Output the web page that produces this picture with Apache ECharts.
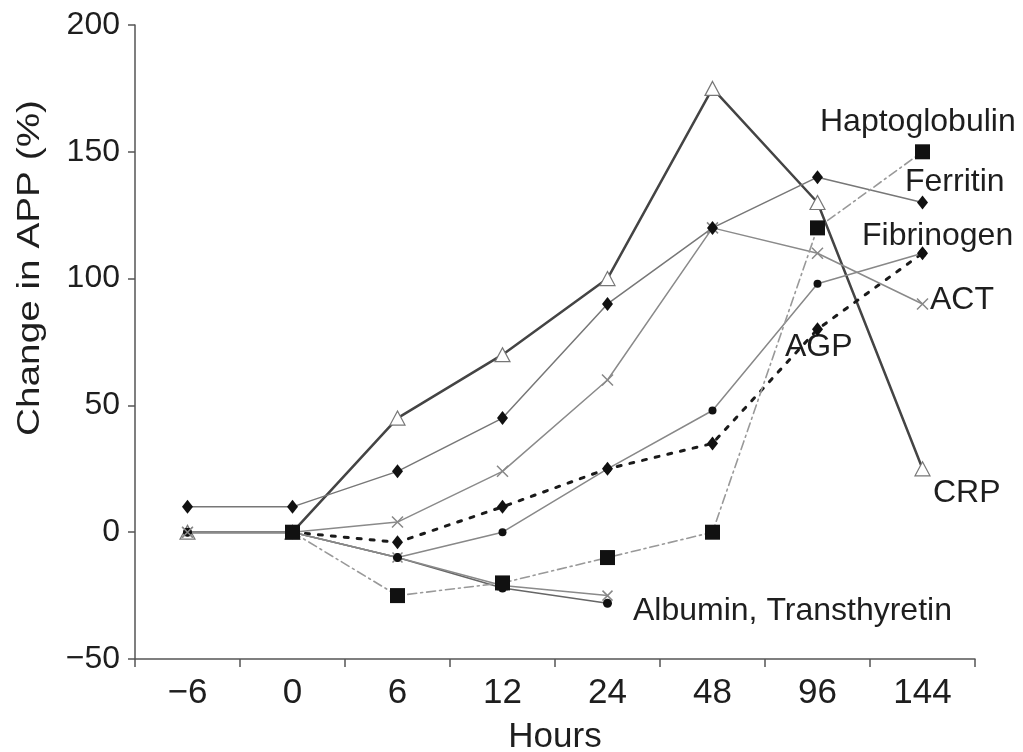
<!DOCTYPE html>
<html>
<head>
<meta charset="utf-8">
<script src="https://cdn.jsdelivr.net/npm/echarts@6/dist/echarts.min.js"></script>
<style>
  html, body { margin: 0; padding: 0; background: #fff; }
  #chart { width: 1023px; height: 752px; }
</style>
</head>
<body>
<div id="chart"></div>
<script>
// hours after challenge (category axis)
var hours = ['\u22126', '0', '6', '12', '24', '48', '96', '144'];

// change in acute phase protein, %
var crp = [0, 0, 45, 70, 100, 175, 130, 25];
var ferritin = [10, 10, 24, 45, 90, 120, 140, 130];
var act = [0, 0, 4, 24, 60, 120, 110, 90];
var fibrinogen = [0, 0, -10, 0, 25, 48, 98, 110];
var agp = [null, 0, -4, 10, 25, 35, 80, 110];
var haptoglobulin = [null, 0, -25, -20, -10, 0, 120, 150];
var albumin = [0, 0, -10, -22, -28, null, null, null];
var transthyretin = [0, 0, -10, -21, -25, null, null, null];

var yTicks = [-50, 0, 50, 100, 150, 200];

function init() {
    var chart = echarts.init(document.getElementById('chart'));
    var crossPath = 'path://M0,0L10,10M10,0L0,10';
    let textColor = '#1e1e1e';
    let font = '"Liberation Sans", Arial, sans-serif';

    function line(name, data, lineColor, width, type, symbol, size, item) {
        return {
            name: name,
            type: 'line',
            data: data,
            symbol: symbol,
            symbolSize: size,
            showAllSymbol: true,
            connectNulls: false,
            lineStyle: { color: lineColor, width: width, type: type, cap: 'round' },
            itemStyle: item,
            emphasis: { disabled: true }
        };
    }

    function label(text, x, y) {
        return {
            type: 'text',
            x: x,
            y: y,
            style: {
                text: text,
                font: '32px ' + font,
                fill: textColor,
                textAlign: 'left',
                textVerticalAlign: 'middle'
            }
        };
    }

    chart.setOption({
        backgroundColor: '#fff',
        animation: false,
        grid: { left: 135, right: 48, top: 25, bottom: 93, outerBoundsMode: 'none', containLabel: false },
        xAxis: {
            type: 'category',
            data: hours,
            boundaryGap: true,
            axisLine: { onZero: false, lineStyle: { color: '#555', width: 1.5 } },
            axisTick: { show: true, length: 8, lineStyle: { color: '#555', width: 1.5 } },
            axisLabel: { color: textColor, fontSize: 35, fontFamily: font, margin: 17 },
            name: 'Hours',
            nameLocation: 'middle',
            nameGap: 61,
            nameTextStyle: { color: textColor, fontSize: 35, fontFamily: font },
            splitLine: { show: false }
        },
        yAxis: {
            type: 'value',
            min: yTicks[0],
            max: yTicks[yTicks.length - 1],
            interval: 50,
            axisLine: { show: true, lineStyle: { color: '#555', width: 1.5 } },
            axisTick: { show: true, length: 7, lineStyle: { color: '#555', width: 1.5 } },
            axisLabel: {
                color: textColor, fontSize: 32, fontFamily: font, margin: 15,
                formatter: function (v) { return v < 0 ? '\u2212' + Math.abs(v) : String(v); }
            },
            splitLine: { show: false }
        },
        graphic: [
            {
                type: 'text',
                x: 30,
                y: 268,
                rotation: Math.PI / 2,
                scaleX: 1.25,
                style: {
                    text: 'Change in APP (%)',
                    font: '31px ' + font,
                    fill: textColor,
                    textAlign: 'center',
                    textVerticalAlign: 'middle'
                }
            },
            label('Haptoglobulin', 820, 122),
            label('Ferritin', 905, 182),
            label('Fibrinogen', 862, 236),
            label('ACT', 930, 300),
            label('AGP', 785, 347),
            label('CRP', 933, 493),
            label('Albumin, Transthyretin', 633, 611)
        ],
        series: [
            line('CRP', crp, '#444', 2.5, 'solid', 'triangle', [15, 14],
                { color: '#fff', borderColor: '#777', borderWidth: 1.2 }),
            line('AGP', agp, '#1a1a1a', 3, [4, 9], 'diamond', [11, 14],
                { color: '#111' }),
            line('Albumin', albumin, '#666', 1.5, 'solid', 'circle', 9,
                { color: '#111' }),
            line('Transthyretin', transthyretin, '#8a8a8a', 1.5, 'solid', crossPath, 10,
                { color: 'transparent', borderColor: '#888', borderWidth: 1.5 }),
            line('Fibrinogen', fibrinogen, '#888', 1.5, 'solid', 'circle', 8,
                { color: '#111' }),
            line('ACT', act, '#8a8a8a', 1.5, 'solid', crossPath, 11,
                { color: 'transparent', borderColor: '#888', borderWidth: 1.5 }),
            line('Ferritin', ferritin, '#777', 1.5, 'solid', 'diamond', [11, 14],
                { color: '#111' }),
            line('Haptoglobulin', haptoglobulin, '#999', 1.6, [9, 4, 2, 4], 'rect', 15,
                { color: '#111' })
        ]
    });
}
document.addEventListener('DOMContentLoaded', init);
</script>
</body>
</html>
